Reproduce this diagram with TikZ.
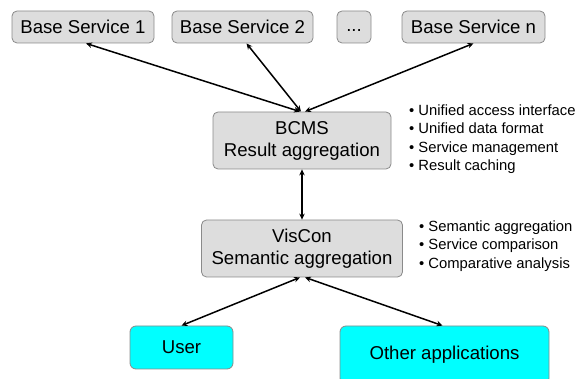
\documentclass[tikz,border=0pt]{standalone}
\usepackage{fontspec}
\setmainfont{Liberation Sans}
\usetikzlibrary{arrows.meta}
\definecolor{boxgray}{HTML}{DDDDDD}
\definecolor{edgegray}{HTML}{8A8A8A}
\definecolor{appcyan}{HTML}{00FFFF}
\tikzset{
  svc/.style={draw=edgegray, fill=boxgray, rounded corners=5pt, line width=0.8pt,
    inner sep=0pt, font=\fontsize{18.6}{22}\selectfont, align=center},
  app/.style={draw=edgegray, fill=appcyan, rounded corners=6pt, line width=0.8pt,
    inner sep=0pt, font=\fontsize{18.6}{22}\selectfont, align=center},
  notes/.style={anchor=north west, inner sep=0pt, align=left,
    font=\fontsize{14.8}{18.4}\selectfont},
  link/.style={line width=1.5pt, {Stealth[length=6pt,width=5.5pt]}-{Stealth[length=6pt,width=5.5pt]}}
}
\begin{document}
\begin{tikzpicture}[x=1pt,y=-1pt]
\useasboundingbox (0,0) rectangle (579,379);
\node[svc, minimum width=142pt, minimum height=32pt] (bs1) at (83,27) {Base Service 1};
\node[svc, minimum width=141pt, minimum height=32pt] (bs2) at (242.5,27) {Base Service 2};
\node[svc, minimum width=34pt, minimum height=32pt] (dots) at (354,27) {\vphantom{Bg}...};
\node[svc, minimum width=143pt, minimum height=32pt] (bsn) at (473.5,27) {Base Service n};
\node[svc, minimum width=178pt, minimum height=57pt] (bcms) at (302,140.5) {BCMS\\Result aggregation};
\node[svc, minimum width=201pt, minimum height=57pt] (viscon) at (302,248.5) {VisCon\\Semantic aggregation};
\node[app, minimum width=103pt, minimum height=43pt] (user) at (181.5,347.5) {User};
\node[app, minimum width=209pt, minimum height=58pt] (other) at (444.5,355) {Other applications};
\node[notes] (n1) at (409,104.5) {• Unified access interface\\• Unified data format\\• Service management\\• Result caching};
\node[notes] (n2) at (419,220.5) {• Semantic aggregation\\• Service comparison\\• Comparative analysis};
\draw[link] ([xshift=3pt]bs1.south) -- ([xshift=-2pt]bcms.north);
\draw[link] ([xshift=4pt]bs2.south) -- ([xshift=-1pt]bcms.north);
\draw[link] (bsn.south) -- ([xshift=3pt]bcms.north);
\draw[link] (bcms.south) -- (viscon.north);
\draw[link] ([xshift=-2pt]viscon.south) -- (user.north);
\draw[link] ([xshift=3pt]viscon.south) -- ([xshift=-2pt]other.north);
\end{tikzpicture}
\end{document}
